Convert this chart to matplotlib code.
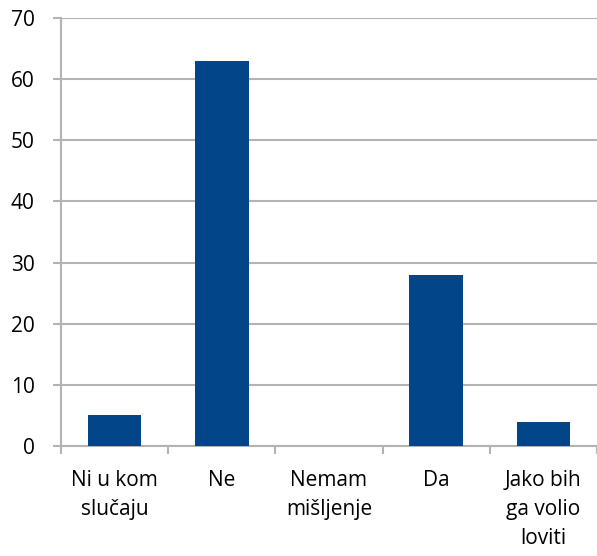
import matplotlib
matplotlib.use("Agg")
import matplotlib.pyplot as plt
import numpy as np

categories = ["Ni u kom\nslučaju", "Ne", "Nemam\nmišljenje", "Da", "Jako bih\nga volio\nloviti"]
values = [5, 63, 0, 28, 4]
yticks = [0, 10, 20, 30, 40, 50, 60, 70]

plt.rcParams['font.family'] = ['Open Sans', 'DejaVu Sans']

fig = plt.figure(figsize=(5.97, 5.56), dpi=100)
ax = fig.add_axes([61/597, 110/556, 536/597, 428/556])

x = np.arange(len(categories))
ax.bar(x, values, width=0.5, color="#024588", zorder=3)
ax.set_xlim(-0.5, len(categories) - 0.5)
ax.set_ylim(0, 70)
ax.set_yticks(yticks)
ax.set_yticklabels([str(v) for v in yticks], fontsize=15)
ax.yaxis.grid(True, color="#b3b3b3", linewidth=1.5, zorder=0)

ax.set_xticks(np.arange(-0.5, len(categories) + 0.5, 1.0))
ax.set_xticklabels([])
ax.set_xticks(x, minor=True)
ax.set_xticklabels(categories, minor=True, fontsize=15, linespacing=1.5, va="top")
ax.tick_params(axis="x", which="minor", length=0, pad=17)
ax.tick_params(axis="x", which="major", length=6, width=1.5, color="#b3b3b3")
ax.tick_params(axis="y", length=6, width=1.5, color="#b3b3b3", pad=13)

for s in ["top", "right"]:
    ax.spines[s].set_visible(False)
for s in ["left", "bottom"]:
    ax.spines[s].set_color("#b3b3b3")
    ax.spines[s].set_linewidth(1.5)

fig.savefig("out.png", dpi=100)
